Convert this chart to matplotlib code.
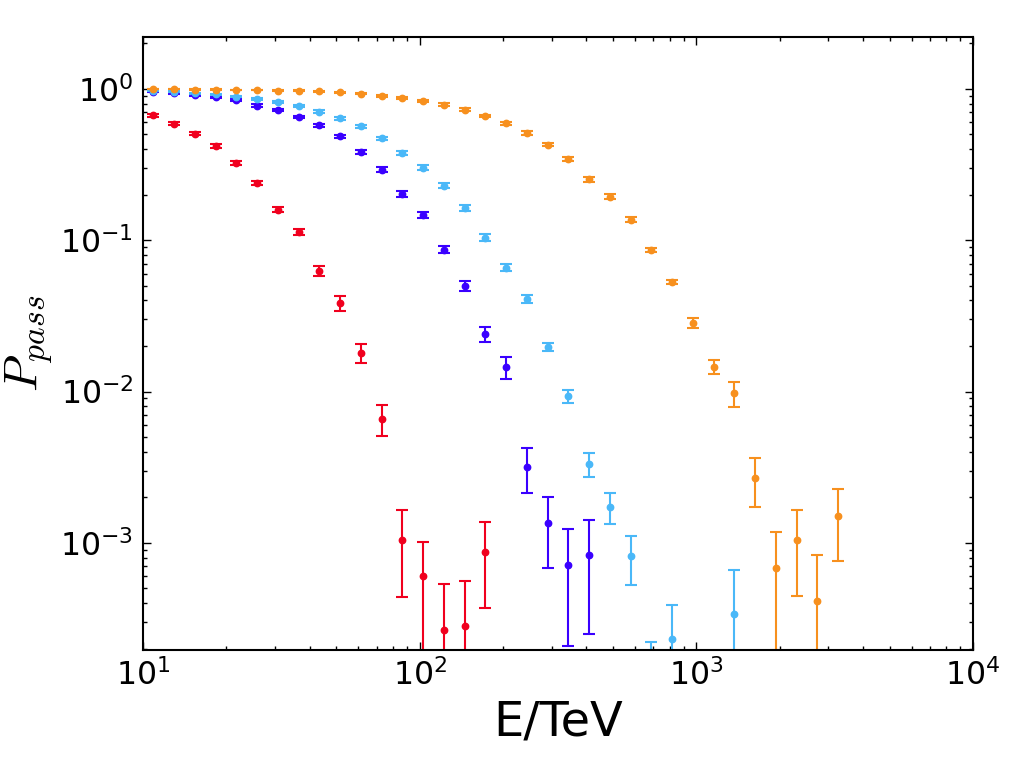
import numpy as np
import matplotlib
matplotlib.use('Agg')
import matplotlib.pyplot as plt

nan = np.nan

# bin centres (TeV)
energia = [10.9, 12.96, 15.4, 18.3, 21.75, 25.85, 30.73, 36.52, 43.4, 51.58,
           61.31, 72.86, 86.6, 102.9, 122.3, 145.4, 172.8, 205.4, 244.1, 290.1,
           344.8, 409.7, 487.0, 578.8, 687.9, 817.5, 971.6, 1155, 1372, 1631,
           1939, 2304, 2738, 3255]

p_vermelho = [0.67, 0.59, 0.507, 0.42, 0.324, 0.24, 0.159, 0.113, 0.0627, 0.0385,
              0.018, 0.0066, 0.00104, 0.0006, 0.000267, 0.000282, 0.00087]
e_vermelho = [0.015, 0.0135, 0.012, 0.0105, 0.0095, 0.0078, 0.0062, 0.0053, 0.005, 0.0042,
              0.0025, 0.0015, 0.0006, 0.00042, 0.000267, 0.000282, 0.0005]

p_azul = [0.96, 0.936, 0.908, 0.885, 0.846, 0.776, 0.723, 0.653, 0.575, 0.486,
          0.381, 0.292, 0.201, 0.147, 0.0867, 0.0499, 0.0239, 0.0146, 0.00318, 0.00135,
          0.000718, 0.000832]
e_azul = [0.008, 0.009, 0.01, 0.011, 0.012, 0.013, 0.014, 0.014, 0.014, 0.013,
          0.012, 0.011, 0.009, 0.0075, 0.0047, 0.004, 0.0028, 0.0024, 0.00104, 0.00067,
          0.00051, 0.00058]

p_ciano = [0.975, 0.96, 0.936, 0.923, 0.889, 0.859, 0.816, 0.768, 0.708, 0.64,
           0.567, 0.472, 0.378, 0.302, 0.229, 0.163, 0.104, 0.066, 0.041, 0.0197,
           0.00935, 0.00332, 0.00173, 0.000815, 0.00011, 0.000231, nan, nan, 0.000337]
e_ciano = [0.006, 0.007, 0.008, 0.009, 0.01, 0.011, 0.012, 0.012, 0.013, 0.013,
           0.013, 0.012, 0.011, 0.01, 0.009, 0.007, 0.0055, 0.0035, 0.0025, 0.0012,
           0.00095, 0.00058, 0.0004, 0.00029, 0.00011, 0.00016, nan, nan, 0.00033]

p_laranja = [0.995, 0.995, 0.99, 0.99, 0.985, 0.985, 0.975, 0.975, 0.965, 0.95,
             0.931, 0.899, 0.868, 0.833, 0.788, 0.73, 0.663, 0.593, 0.51, 0.429,
             0.345, 0.253, 0.194, 0.137, 0.0859, 0.053, 0.0284, 0.0146, 0.00975, 0.00268,
             0.000686, 0.001045, 0.000413, 0.00151]
e_laranja = [0.004, 0.004, 0.004, 0.004, 0.005, 0.005, 0.006, 0.006, 0.007, 0.008,
             0.009, 0.01, 0.011, 0.012, 0.013, 0.014, 0.014, 0.014, 0.013, 0.012,
             0.011, 0.009, 0.007, 0.006, 0.0026, 0.002, 0.002, 0.0016, 0.0018, 0.00094,
             0.00049, 0.0006, 0.000413, 0.00075]

series = [
    (p_vermelho, e_vermelho, '#f0001e'),
    (p_azul, e_azul, '#3a00ff'),
    (p_ciano, e_ciano, '#4ab8f8'),
    (p_laranja, e_laranja, '#f7901e'),
]

plt.rcParams['mathtext.fontset'] = 'cm'
plt.rcParams['axes.unicode_minus'] = False

fig = plt.figure(figsize=(10.21, 7.66), dpi=100)
ax = fig.add_axes([0.140, 0.1514, 0.813, 0.8006])

for p, e, cor in series:
    n = len(p)
    ax.errorbar(energia[:n], p, yerr=e, fmt='o', color=cor, ecolor=cor,
                markersize=4.6, markeredgecolor=cor, elinewidth=1.5,
                capsize=4.2, capthick=1.5)

ax.set_xscale('log')
ax.set_yscale('log')
ax.set_xlim(10, 1e4)
ax.set_ylim(1.96e-4, 2.21)

ax.tick_params(which='both', direction='in', top=True, right=True, labelsize=22.7)
ax.tick_params(which='major', length=5.8, width=1.0, pad=7)
ax.tick_params(which='minor', length=2.9, width=1.0)
for s in ax.spines.values():
    s.set_linewidth(1.5)

ax.set_xlabel('E/TeV', fontsize=34.5)
ax.set_ylabel(r'$P_{pass}$', fontsize=34.5)

fig.savefig('out.png', dpi=100)
